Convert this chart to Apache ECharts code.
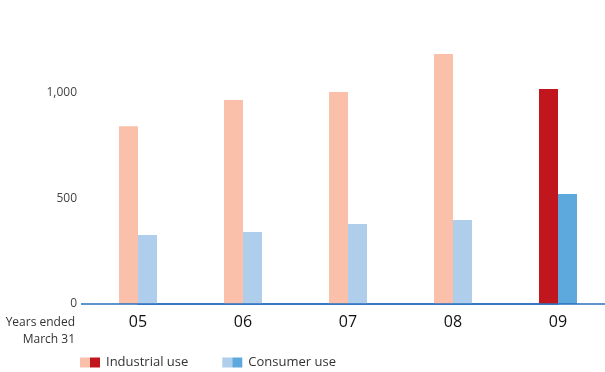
<!DOCTYPE html>
<html>
<head>
<meta charset="utf-8">
<script src="https://cdn.jsdelivr.net/npm/echarts@6/dist/echarts.min.js"></script>
<style>html,body{margin:0;padding:0;background:#fff}#c{width:605px;height:372px}</style>
</head>
<body>
<div id="c"></div>
<script>
var categories = ['05', '06', '07', '08', '09'];
var industrialUse = [843, 967, 1005, 1185, 1019];
var consumerUse = [327, 341, 379, 398, 521];
var yTicks = [0, 500, 1000];

var lightRed = '#FAC0AA', darkRed = '#C1161E';
var lightBlue = '#AECEEB', darkBlue = '#5DA9DD';
var FONT = 'Open Sans';
var AXIS = '#2A6FBE';

function styled(values, light, dark) {
  return values.map(function (v, i) {
    return { value: v, itemStyle: { color: i === values.length - 1 ? dark : light } };
  });
}

var chart = echarts.init(document.getElementById('c'), null, { renderer: 'canvas' });
chart.setOption({
  animation: false,
  textStyle: { fontFamily: FONT },
  grid: { left: 138, width: 420, top: 8.6, bottom: 68, containLabel: false },
  legend: {
    left: 75, top: 356, padding: 0,
    itemWidth: 0, itemHeight: 0, itemGap: 29,
    icon: 'rect',
    selectedMode: false,
    data: ['Industrial use', 'Consumer use'],
    formatter: function (name) {
      return name === 'Industrial use' ? '{a|}{b|}{t|Industrial use}' : '{c|}{d|}{t|Consumer use}';
    },
    textStyle: {
      fontFamily: FONT, fontSize: 13, color: '#333',
      rich: {
        a: { width: 10, height: 10, backgroundColor: lightRed },
        b: { width: 10, height: 10, backgroundColor: darkRed },
        c: { width: 10, height: 10, backgroundColor: lightBlue },
        d: { width: 10, height: 10, backgroundColor: darkBlue },
        t: { fontFamily: FONT, fontSize: 13, color: '#333', padding: [0, 0, 0, 6] }
      }
    }
  },
  xAxis: {
    type: 'category',
    data: categories,
    boundaryGap: false,
    axisLine: { show: true, lineStyle: { color: AXIS, width: 1.5 } },
    axisTick: { show: false },
    axisLabel: { fontFamily: FONT, fontSize: 16, color: '#111', margin: 10 }
  },
  yAxis: {
    type: 'value',
    min: 0, max: 1400, interval: 500,
    splitLine: { show: false },
    axisLine: { show: false },
    axisTick: { show: false },
    axisLabel: {
      fontFamily: FONT, fontSize: 12, color: '#444', margin: 61, showMaxLabel: false,
      formatter: function (v) { return yTicks.indexOf(v) >= 0 ? v.toLocaleString('en-US') : ''; }
    }
  },
  series: [
    { name: 'Industrial use', type: 'bar', barWidth: 19, barGap: '0%', itemStyle: { color: darkRed },
      data: styled(industrialUse, lightRed, darkRed) },
    { name: 'Consumer use', type: 'bar', barWidth: 19, barGap: '0%', itemStyle: { color: darkBlue },
      data: styled(consumerUse, lightBlue, darkBlue) }
  ],
  graphic: [
    { type: 'line', z: 100, shape: { x1: 81, y1: 304, x2: 605, y2: 304 }, style: { stroke: AXIS, lineWidth: 1.5 } },
    { type: 'text', x: 75, y: 314,
      style: { text: 'Years ended\nMarch 31', fontFamily: FONT, fontSize: 12, fill: '#333', align: 'right', lineHeight: 17 } }
  ]
});
</script>
</body>
</html>
